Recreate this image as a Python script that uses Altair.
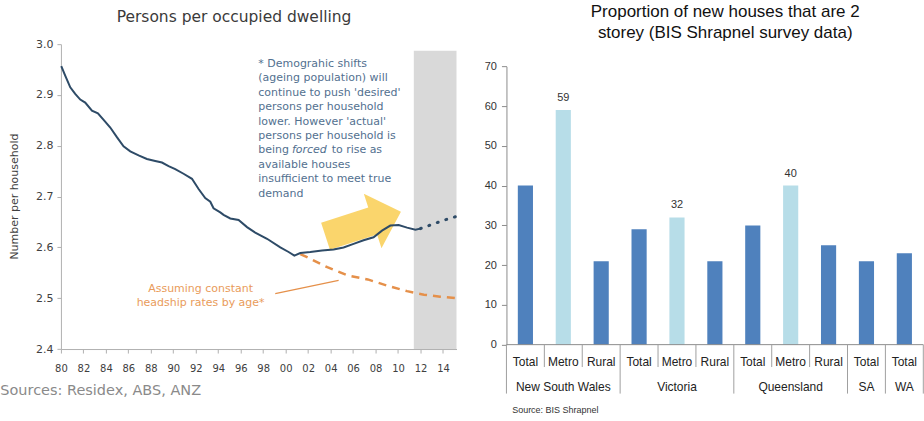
import altair as alt
import pandas as pd

# ---------------- Left chart data ----------------
blue_years = [1980.03, 1980.38, 1980.83, 1981.27, 1981.72, 1982.16, 1982.76, 1983.29, 1983.8,
              1984.39, 1984.98, 1985.57, 1986.17, 1986.91, 1987.65, 1988.39, 1988.99, 1989.58,
              1990.17, 1990.91, 1991.66, 1992.25, 1992.84, 1993.29, 1993.58, 1994.18, 1994.47,
              1995.07, 1995.81, 1996.56, 1997.29, 1998.34, 1999.52, 2000.26, 2000.77, 2001.3,
              2002.19, 2003.23, 2004.26, 2005.15, 2006.04, 2006.93, 2007.82, 2008.57, 2009.31,
              2010.05, 2010.8, 2011.54, 2011.98]
blue_values = [2.957, 2.938, 2.915, 2.902, 2.891, 2.885, 2.869, 2.864, 2.851,
               2.836, 2.817, 2.799, 2.789, 2.781, 2.774, 2.770, 2.767, 2.760,
               2.754, 2.745, 2.735, 2.715, 2.697, 2.690, 2.677, 2.669, 2.664,
               2.657, 2.654, 2.640, 2.629, 2.617, 2.600, 2.591, 2.584, 2.589,
               2.591, 2.594, 2.596, 2.600, 2.607, 2.614, 2.620, 2.633, 2.643,
               2.644, 2.639, 2.635, 2.637]

proj_years = [2011.98, 2013.0, 2014.0, 2015.2]
proj_values = [2.637, 2.645, 2.653, 2.661]

orange_years = [2001.3, 2001.9, 2003.7, 2005.5, 2007.3, 2009.0, 2010.8, 2012.3, 2013.75, 2015.2]
orange_values = [2.587, 2.581, 2.561, 2.545, 2.537, 2.525, 2.514, 2.507, 2.503, 2.500]

shade_start, shade_end, shade_top = 2011.4, 2015.2, 2.987
arrow_year, arrow_value = 2006.9, 2.646
pointer_from = (1999.07, 2.509)
pointer_to = (2004.71, 2.535)

x_ticks = list(range(1980, 2015, 2))
y_ticks = [2.4, 2.5, 2.6, 2.7, 2.8, 2.9, 3.0]

note_lines = ["* Demograhic shifts", "(ageing population) will", "continue to push 'desired'",
              "persons per household", "lower.  However 'actual'", "persons per household is",
              "being", "available houses", "insufficient to meet true", "demand"]

# ---------------- Right chart data ----------------
sub_labels = ["Total", "Metro", "Rural", "Total", "Metro", "Rural", "Total", "Metro", "Rural", "Total", "Total"]
share_values = [40, 59, 21, 29, 32, 21, 30, 40, 25, 21, 23]
group_names = ["New South Wales", "Victoria", "Queensland", "SA", "WA"]
group_sizes = [3, 3, 3, 1, 1]

# ---------------- Styles ----------------
LW, LH = 396, 305.2
RW, RH = 417.3, 305.2
BLUE = "#2E4B67"
ORANGE = "#E5904A"
NOTE = "#52708F"
DV = "DejaVu Sans"
LS = "Liberation Sans"

xs = alt.Scale(domain=[1980, 2015.2], nice=False, zero=False)
ys = alt.Scale(domain=[2.4, 3.0], nice=False, zero=False)

x_axis = alt.Axis(values=x_ticks, labelExpr="substring(toString(datum.value), 2, 4)",
                  grid=False, title=None, domainColor="#B0B0B0", tickColor="#B0B0B0",
                  tickSize=4, labelFont=DV, labelFontSize=10, labelColor="#404040",
                  labelPadding=10, labelFlush=False)
y_axis = alt.Axis(values=y_ticks, format=".1f", grid=False, title=None,
                  domainColor="#B0B0B0", tickColor="#B0B0B0", tickSize=4,
                  labelFont=DV, labelFontSize=11, labelColor="#404040", labelPadding=4)

blue_df = pd.DataFrame({"year": blue_years, "value": blue_values})
proj_df = pd.DataFrame({"year": proj_years, "value": proj_values})
orange_df = pd.DataFrame({"year": orange_years, "value": orange_values})
shade_df = pd.DataFrame({"x": [shade_start], "x2": [shade_end], "y": [2.4], "y2": [shade_top]})
arrow_df = pd.DataFrame({"year": [arrow_year], "value": [arrow_value]})
pointer_df = pd.DataFrame({"x": [pointer_from[0]], "y": [pointer_from[1]],
                           "x2": [pointer_to[0]], "y2": [pointer_to[1]]})

shade = alt.Chart(shade_df).mark_rect(color="#D9D9D9").encode(
    x=alt.X("x:Q", scale=xs, axis=x_axis), x2="x2:Q",
    y=alt.Y("y:Q", scale=ys, axis=y_axis), y2="y2:Q")

arrow_path = "M -1 -0.36 L 0.25 -0.36 L 0.25 -0.72 L 1 0 L 0.25 0.72 L 0.25 0.36 L -1 0.36 Z"
arrow = alt.Chart(arrow_df).mark_point(shape=arrow_path, filled=True, size=6300, angle=342,
                                       color="#FAD160", opacity=0.92, strokeWidth=0).encode(
    x=alt.X("year:Q", scale=xs, axis=x_axis), y=alt.Y("value:Q", scale=ys, axis=y_axis))

orange_line = alt.Chart(orange_df).mark_line(color=ORANGE, strokeWidth=2.5, strokeDash=[8, 6]).encode(
    x=alt.X("year:Q", scale=xs, axis=x_axis), y=alt.Y("value:Q", scale=ys, axis=y_axis))

blue_line = alt.Chart(blue_df).mark_line(color=BLUE, strokeWidth=2).encode(
    x=alt.X("year:Q", scale=xs, axis=x_axis), y=alt.Y("value:Q", scale=ys, axis=y_axis))

proj_line = alt.Chart(proj_df).mark_line(color=BLUE, strokeWidth=3, strokeDash=[1, 8],
                                         strokeCap="round").encode(
    x=alt.X("year:Q", scale=xs, axis=x_axis), y=alt.Y("value:Q", scale=ys, axis=y_axis))

pointer = alt.Chart(pointer_df).mark_rule(color=ORANGE, strokeWidth=1.2).encode(
    x=alt.X("x:Q", scale=xs, axis=x_axis), y=alt.Y("y:Q", scale=ys, axis=y_axis),
    x2="x2:Q", y2="y2:Q")

left_layers = [shade, arrow, orange_line, blue_line, proj_line, pointer]


def label(text, x, y, size, color, font, align="left", baseline="middle", **kw):
    return alt.Chart(pd.DataFrame({"t": [text]})).mark_text(
        align=align, baseline=baseline, fontSize=size, color=color, font=font, **kw
    ).encode(x=alt.value(x), y=alt.value(y), text="t:N")


left_layers.append(label("Persons per occupied dwelling", 173.3, -21.8, 15.5, "#3A3A3A", DV,
                         align="center", baseline="alphabetic"))
left_layers.append(label("Number per household", -45.7, 152.6, 11, "#404040", DV,
                         align="center", angle=270))
left_layers.append(label("Sources: Residex, ABS, ANZ", -60.7, 347.2, 14.5, "#8A8A8A", DV))
for i, line in enumerate(note_lines):
    left_layers.append(label(line, 197.6, 19.8 + i * 14.44, 11, NOTE, DV))
left_layers.append(label("forced", 231.3, 19.8 + 6 * 14.44, 11, NOTE, DV, fontStyle="italic"))
left_layers.append(label("to rise as", 271.0, 19.8 + 6 * 14.44, 11, NOTE, DV))
left_layers.append(label("Assuming constant", 139.8, 245.5, 11, "#E99B5A", DV, align="center"))
left_layers.append(label("headship rates by age*", 139.8, 259.5, 11, "#E99B5A", DV, align="center"))

left = alt.layer(*left_layers).properties(width=LW, height=LH)

# ---------------- Right chart ----------------
n = len(sub_labels)
bar_df = pd.DataFrame({
    "sub": sub_labels,
    "value": share_values,
    "base": [0] * n,
    "x0": [i + 0.3 for i in range(n)],
    "x1": [i + 0.7 for i in range(n)],
    "mid": [i + 0.5 for i in range(n)],
    "kind": ["Metro" if s == "Metro" else "Other" for s in sub_labels],
})
bounds = [0]
for g in group_sizes:
    bounds.append(bounds[-1] + g)
group_df = pd.DataFrame({"name": group_names,
                         "mid": [(bounds[i] + bounds[i + 1]) / 2 for i in range(len(group_names))]})
group_sep_df = pd.DataFrame({"k": bounds, "zero": [0] * len(bounds)})
inner_sep_df = pd.DataFrame({"k": [k for k in range(n + 1) if k not in bounds],
                             "zero": [0] * (n + 1 - len(bounds))})

rxs = alt.Scale(domain=[0, n], nice=False, zero=False)
rys = alt.Scale(domain=[0, 70], nice=False, range=[300.8, 22.2])
r_y_axis = alt.Axis(values=list(range(0, 71, 10)), grid=False, title=None,
                    domainColor="#8C8C8C", tickColor="#8C8C8C", tickSize=5,
                    labelFont=LS, labelFontSize=11, labelColor="#333333", labelPadding=5)

bars = alt.Chart(bar_df).mark_rect().encode(
    x=alt.X("x0:Q", scale=rxs, axis=None), x2="x1:Q",
    y=alt.Y("value:Q", scale=rys, axis=r_y_axis), y2="base:Q",
    color=alt.Color("kind:N", scale=alt.Scale(domain=["Other", "Metro"], range=["#4F81BD", "#B7DDE8"]),
                    legend=None))

bar_labels = alt.Chart(bar_df).transform_filter(alt.datum.sub == "Metro").mark_text(
    baseline="alphabetic", dy=-9, fontSize=11, font=LS, color="#333333").encode(
    x=alt.X("mid:Q", scale=rxs, axis=None), y=alt.Y("value:Q", scale=rys, axis=r_y_axis),
    text="value:Q")

baseline = alt.Chart(pd.DataFrame({"a": [0], "b": [n], "zero": [0]})).mark_rule(
    color="#8C8C8C", strokeWidth=1).encode(
    x=alt.X("a:Q", scale=rxs, axis=None), x2="b:Q",
    y=alt.Y("zero:Q", scale=rys, axis=r_y_axis))

inner_sep = alt.Chart(inner_sep_df).mark_rule(color="#A0A0A0", strokeWidth=1).encode(
    x=alt.X("k:Q", scale=rxs, axis=None), y=alt.Y("zero:Q", scale=rys, axis=r_y_axis),
    y2=alt.value(323.2))
group_sep = alt.Chart(group_sep_df).mark_rule(color="#A0A0A0", strokeWidth=1).encode(
    x=alt.X("k:Q", scale=rxs, axis=None), y=alt.Y("zero:Q", scale=rys, axis=r_y_axis),
    y2=alt.value(349.8))

sub_text = alt.Chart(bar_df).mark_text(baseline="middle", fontSize=12, font=LS, color="#222222").encode(
    x=alt.X("mid:Q", scale=rxs, axis=None), y=alt.value(318.2), text="sub:N")
group_text = alt.Chart(group_df).mark_text(baseline="middle", fontSize=12, font=LS, color="#222222").encode(
    x=alt.X("mid:Q", scale=rxs, axis=None), y=alt.value(343.2), text="name:N")

right_layers = [bars, bar_labels, baseline, inner_sep, group_sep, sub_text, group_text]
right_layers.append(label("Proportion of new houses that are 2", 219, -26.8, 17, "#111111", LS,
                          align="center", baseline="alphabetic"))
right_layers.append(label("storey (BIS Shrapnel survey data)", 219, -6.2, 17, "#111111", LS,
                          align="center", baseline="alphabetic"))
right_layers.append(label("Source:  BIS Shrapnel", 5.7, 366.5, 9, "#333333", LS))

right = alt.layer(*right_layers).properties(width=RW, height=RH)

chart = alt.hconcat(left, right, spacing=21).properties(
    padding={"left": 0, "top": 3, "right": 0, "bottom": 0}, background="white"
).configure_view(stroke=None)

chart.save("out.html", embed_options={"renderer": "svg", "actions": False})
